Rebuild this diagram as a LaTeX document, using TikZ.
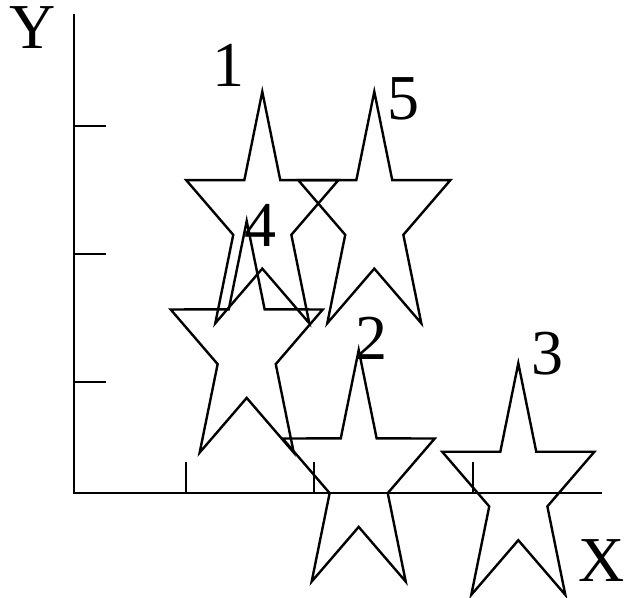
\documentclass[tikz,border=0pt]{standalone}
\usepackage{fontspec}
\setmainfont{Liberation Serif}
\begin{document}
\begin{tikzpicture}[
  x=1pt, y=-1pt,
  axis/.style={line width=2.6pt},
  tick/.style={line width=2.6pt},
  starline/.style={line width=2.4pt},
  num/.style={inner sep=0pt, font=\fontsize{64}{70}\selectfont},
  starmark/.pic={\draw[starline] (0,-128) foreach \a/\rad in {126/0.382, 162/1, 198/0.382, 234/1, 270/0.382, 306/1, 342/0.382, 18/1, 54/0.382} {-- ({80*\rad*cos(\a)},{-128*\rad*sin(\a)})} -- cycle;}]

\useasboundingbox (0,0) rectangle (625,598);

% axes
\coordinate (o) at (74,493);
\coordinate (ytop) at (74,14);
\coordinate (xend) at (602,493);
\draw[axis] (ytop) -- (o) -- (xend);
\node[num] (ylab) at (33,28) {Y};
\node[num] (xlab) at (602,561) {X};

% ticks
\foreach \y in {126,254,382} \draw[tick] (o |- 0,\y) -- +(32,0);
\foreach \x in {186,314,473} \draw[tick] (o -| \x,0) -- +(0,-31);

% stars
\coordinate (s1) at (262.3,219.7);
\coordinate (s2) at (358.7,478);
\coordinate (s3) at (518.3,491.3);
\coordinate (s4) at (246.7,349);
\coordinate (s5) at (374.3,219.7);
\foreach \s in {1,...,5} \pic at (s\s) {starmark};

\node[num] (n1) at (228,65) {1};
\node[num] (n2) at (371,338) {2};
\node[num] (n3) at (547,354) {3};
\node[num] (n4) at (260,225) {4};
\node[num] (n5) at (403.5,99) {5};
\end{tikzpicture}
\end{document}
